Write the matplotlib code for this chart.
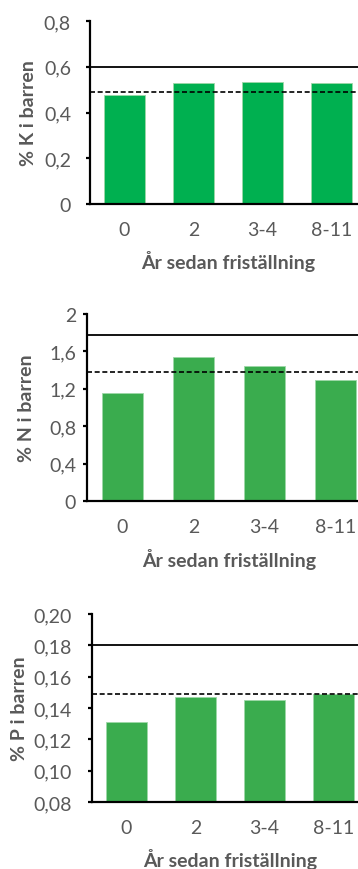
import matplotlib.pyplot as plt
from matplotlib.ticker import FuncFormatter

plt.rcParams['font.family'] = ['Lato', 'DejaVu Sans']

# Data
categories = ['0', '2', '3-4', '8-11']
k_values = [0.476, 0.527, 0.532, 0.529]
n_values = [1.16, 1.543, 1.443, 1.293]
p_values = [0.131, 0.147, 0.145, 0.149]
k_lines = [0.60, 0.49]     # solid, dashed
n_lines = [1.78, 1.38]
p_lines = [0.18, 0.149]
k_ticks = [0, 0.2, 0.4, 0.6, 0.8]
n_ticks = [0, 0.4, 0.8, 1.2, 1.6, 2.0]
p_ticks = [0.08, 0.10, 0.12, 0.14, 0.16, 0.18, 0.20]

W, H = 358, 870
PT = 0.72  # points per pixel at dpi 100
GRAY = '#595959'
FS = 14

fig = plt.figure(figsize=(W / 100, H / 100), dpi=100)


def make_panel(left, top, bottom, step, values, lines, ticks, ylabel, color,
               fmt, ypad, ylab_x):
    # positions in pixels -> figure fraction; axes runs past the right edge
    width = 4 * step
    ax = fig.add_axes([left / W, 1 - bottom / H, width / W, (bottom - top) / H])
    x = range(len(categories))
    ax.bar(x, values, width=0.58, color=color, edgecolor='#9ed8a8',
           linewidth=0.6, zorder=2)
    ax.axhline(lines[0], color='black', lw=1.3, zorder=3)
    ax.axhline(lines[1], color='black', lw=1.2, ls=(0, (3, 1.6)), zorder=3)
    ax.set_xlim(-0.5, 3.5)
    ax.set_ylim(ticks[0], ticks[-1])
    ax.set_yticks(ticks)
    ax.yaxis.set_major_formatter(FuncFormatter(fmt))
    ax.set_xticks(list(x))
    ax.set_xticklabels(categories)
    for s in ['top', 'right']:
        ax.spines[s].set_visible(False)
    for s in ['left', 'bottom']:
        ax.spines[s].set_linewidth(2.2 * PT)
        ax.spines[s].set_color('black')
    ax.tick_params(axis='y', direction='out', length=4 * PT, width=2.2 * PT,
                   labelsize=FS, labelcolor=GRAY, pad=ypad * PT)
    ax.tick_params(axis='x', length=0, labelsize=FS, labelcolor=GRAY,
                   pad=17 * PT)
    ax.set_ylabel(ylabel, fontsize=FS, fontweight='bold', color=GRAY,
                  va='center')
    ax.yaxis.set_label_coords((ylab_x - left) / width, 0.5)
    ax.set_xlabel('År sedan friställning', fontsize=FS, fontweight='bold',
                  color=GRAY, va='center')
    ax.xaxis.set_label_coords(0.5, -57 / (bottom - top))
    return ax


def fmt1(v, pos):
    if abs(v) < 1e-9:
        return '0'
    return ('%g' % round(v, 2)).replace('.', ',')


def fmt2(v, pos):
    return ('%.2f' % v).replace('.', ',')


make_panel(90, 22, 205, 69, k_values, k_lines, k_ticks, '% K i barren',
           '#00b050', fmt1, 15, 29)
make_panel(87, 315, 502, 71, n_values, n_lines, n_ticks, '% N i barren',
           '#3aac4e', fmt1, 7, 27)
make_panel(92, 615, 803, 69, p_values, p_lines, p_ticks, '% P i barren',
           '#3aac4e', fmt2, 16, 20)

fig.savefig('out.png', dpi=100)
